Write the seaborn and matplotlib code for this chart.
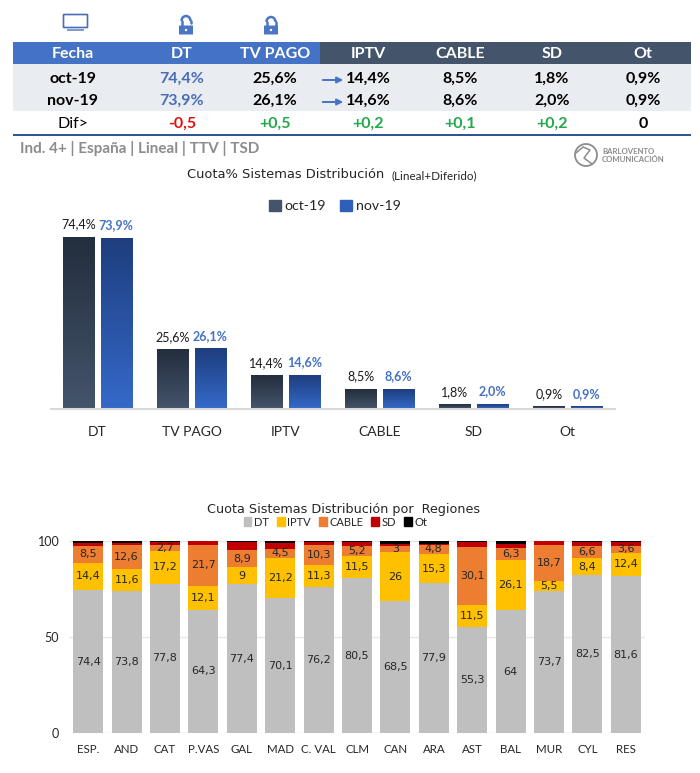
import matplotlib
matplotlib.use('Agg')
import matplotlib.pyplot as plt
from matplotlib.patches import Rectangle, FancyBboxPatch, Arc, Circle, Patch
from matplotlib.colors import LinearSegmentedColormap
import numpy as np
import pandas as pd
import seaborn as sns

W, H = 700, 773

# table
table_cols = ['Fecha', 'DT', 'TV PAGO', 'IPTV', 'CABLE', 'SD', 'Ot']
row_oct = ['oct-19', '74,4%', '25,6%', '14,4%', '8,5%', '1,8%', '0,9%']
row_nov = ['nov-19', '73,9%', '26,1%', '14,6%', '8,6%', '2,0%', '0,9%']
row_dif = ['Dif>', '-0,5', '+0,5', '+0,2', '+0,1', '+0,2', '0']

# share chart
systems = ['DT', 'TV PAGO', 'IPTV', 'CABLE', 'SD', 'Ot']
share_oct = [74.4, 25.6, 14.4, 8.5, 1.8, 0.9]
share_nov = [73.9, 26.1, 14.6, 8.6, 2.0, 0.9]

# regions chart
regions = ['ESP.', 'AND', 'CAT', 'P.VAS', 'GAL', 'MAD', 'C. VAL', 'CLM', 'CAN', 'ARA', 'AST', 'BAL', 'MUR', 'CYL', 'RES']
reg_dt = [74.4, 73.8, 77.8, 64.3, 77.4, 70.1, 76.2, 80.5, 68.5, 77.9, 55.3, 64, 73.7, 82.5, 81.6]
reg_iptv = [14.4, 11.6, 17.2, 12.1, 9, 21.2, 11.3, 11.5, 26, 15.3, 11.5, 26.1, 5.5, 8.4, 12.4]
reg_cable = [8.5, 12.6, 2.7, 21.7, 8.9, 4.5, 10.3, 5.2, 3, 4.8, 30.1, 6.3, 18.7, 6.6, 3.6]
reg_sd = [1.8, 1.2, 1.6, 1.7, 4.4, 2.9, 1.9, 2.5, 1.0, 0.5, 2.8, 2.0, 1.9, 2.2, 2.0]
reg_ot = [0.9, 0.8, 0.7, 0.2, 0.3, 1.3, 0.3, 0.3, 1.5, 1.5, 0.3, 1.6, 0.2, 0.3, 0.4]

sns.set_theme(style='white')
plt.rcParams['font.family'] = ['Lato', 'DejaVu Sans']
plt.rcParams['axes.unicode_minus'] = False

BLUE = '#4472C4'
NAVY = '#44546A'
TXT = '#262626'


def px_axes(fig, left, top, right, bottom):
    return fig.add_axes([left / W, 1 - bottom / H, (right - left) / W, (bottom - top) / H])


def fmt(v):
    return f'{v:g}'.replace('.', ',')


fig = plt.figure(figsize=(W / 100, H / 100), dpi=100, facecolor='white')

# ---- overlay with table, icons and loose texts, in pixels
bg = fig.add_axes([0, 0, 1, 1])
bg.set_xlim(0, W)
bg.set_ylim(H, 0)
bg.axis('off')

bg.add_patch(Rectangle((12.5, 42), 307.5, 22, color=BLUE, lw=0))
bg.add_patch(Rectangle((320, 42), 371, 22, color=NAVY, lw=0))
bg.add_patch(Rectangle((12.5, 64), 678.5, 47, color='#E9ECF1', lw=0))
bg.add_patch(Rectangle((12.5, 133.5), 678.5, 2, color='#2F5597', lw=0))

col_x = [73, 182, 275, 368, 460, 552, 643]
for x, head, a, b, d in zip(col_x, table_cols, row_oct, row_nov, row_dif):
    bg.text(x, 54, head, color='white', fontsize=11.5, fontweight='bold', ha='center', va='center')
    acol = '#4A6EB5' if head == 'DT' else 'black'
    bg.text(x, 79, a, color=acol, fontsize=11.5, fontweight='bold', ha='center', va='center')
    bg.text(x, 101, b, color=acol, fontsize=11.5, fontweight='bold', ha='center', va='center')
    if d.startswith('-'):
        dcol = '#E01010'
    elif d.startswith('+'):
        dcol = '#22A84A'
    else:
        dcol = 'black'
    bg.text(x, 124, d, color=dcol, fontsize=11.5, fontweight='normal' if head == 'Fecha' else 'bold',
            ha='center', va='center')

for y in [80, 102]:
    bg.annotate('', xy=(346, y), xytext=(320, y),
                arrowprops=dict(arrowstyle='-|>', color=BLUE, lw=1.4, mutation_scale=9))

# icons
bg.add_patch(FancyBboxPatch((64, 15), 23, 12, boxstyle='round,pad=0.5', fc='white', ec='#4A6EB5', lw=1.2))
bg.add_patch(Rectangle((67, 29), 17, 1.5, color='#7F9BD0', lw=0))
for cx, top_y, opened in [(186, 26, True), (271, 26, False)]:
    bg.add_patch(FancyBboxPatch((cx - 6.5, top_y), 13, 8, boxstyle='round,pad=0.5', color='#4A76C4', lw=0))
    yc = top_y - 4 if not opened else top_y - 5
    bg.add_patch(Arc((cx, yc), 9, 10, theta1=180, theta2=360, ec='#4A76C4', lw=1.8))
    bg.plot([cx - 4.5, cx - 4.5], [yc, top_y], color='#4A76C4', lw=1.8)
    if not opened:
        bg.plot([cx + 4.5, cx + 4.5], [yc, top_y], color='#4A76C4', lw=1.8)
    else:
        bg.plot([cx + 4.5, cx + 4.5], [yc, yc + 2], color='#4A76C4', lw=1.8)
    bg.add_patch(Circle((cx, top_y + 4), 1.2, color='white', lw=0))

bg.text(20, 148, 'Ind. 4+ | España | Lineal | TTV | TSD', color='#8C8C8C', fontsize=11, fontweight='bold', va='center')

# logo
bg.add_patch(Circle((586, 155), 11, fc='none', ec='#8C8C8C', lw=1.3))
bg.plot([576, 583, 590, 584, 592], [153, 147, 150, 158, 164], color='#8C8C8C', lw=1.1)
bg.text(602, 151, 'BARLOVENTO', color='#8C8C8C', fontsize=5.6, fontweight='bold', va='center')
bg.text(602, 160, 'COMUNICACIÓN', color='#8C8C8C', fontsize=5.6, fontweight='bold', va='center')

bg.text(187, 175, 'Cuota% Sistemas Distribución', color=TXT, fontsize=9.4, va='center', family='DejaVu Sans')
bg.text(391, 176, '(Lineal+Diferido)', color=TXT, fontsize=8.4, va='center')

# ---- share chart
ax = px_axes(fig, 50.5, 190, 614.5, 409)
ax.patch.set_alpha(0)
share_df = pd.DataFrame({'sistema': systems * 2,
                         'cuota': share_oct + share_nov,
                         'fecha': ['oct-19'] * 6 + ['nov-19'] * 6})
sns.barplot(data=share_df, x='sistema', y='cuota', hue='fecha', palette=[NAVY, '#2F5FB8'],
            width=0.8, gap=0.16, saturation=1, legend=False, linewidth=0, ax=ax)

grads = [('#232E3E', '#44546A'), ('#1E3E7E', '#3569C9')]
label_cols = ['#1A1A1A', BLUE]
label_w = ['normal', 'bold']
for cont, (c_top, c_bot), lc, lw_ in zip(ax.containers, grads, label_cols, label_w):
    cmap = LinearSegmentedColormap.from_list('g', [c_top, c_bot])
    for bar in cont:
        x0, w_, h_ = bar.get_x(), bar.get_width(), bar.get_height()
        ax.imshow(np.linspace(0, 1, 64).reshape(-1, 1), extent=[x0, x0 + w_, 0, h_], cmap=cmap,
                  aspect='auto', zorder=3, origin='upper')
    ax.bar_label(cont, labels=[f'{b.get_height():.1f}%'.replace('.', ',') for b in cont], padding=5,
                 color=lc, fontweight=lw_, fontsize=9, zorder=4)
ax.set_xlim(-0.5, 5.5)
ax.set_ylim(0, 219 / 2.31)
ax.set_xlabel('')
ax.set_ylabel('')
ax.set_yticks([])
ax.tick_params(axis='x', length=0, pad=12, labelsize=10, labelcolor=TXT)
sns.despine(ax=ax, left=True)
ax.spines['bottom'].set_color('#D9D9D9')
ax.spines['bottom'].set_linewidth(1.5)
ax.spines['bottom'].set_zorder(5)
ax.legend(handles=[Patch(color=NAVY, label='oct-19'), Patch(color='#2F5FB8', label='nov-19')],
          ncol=2, frameon=False, loc='center', bbox_to_anchor=((335 - 50.5) / 564, (409 - 206) / 219),
          fontsize=10.2, handlelength=0.85, handleheight=0.9, handletextpad=0.25, columnspacing=1.0,
          labelcolor=TXT)

# ---- regions chart
ax2 = px_axes(fig, 69, 541, 645, 733)
ax2.patch.set_alpha(0)
series = [('DT', reg_dt, '#BFBFBF', True), ('IPTV', reg_iptv, '#FFC000', True),
          ('CABLE', reg_cable, '#ED7D31', True), ('SD', reg_sd, '#C00000', False),
          ('Ot', reg_ot, '#000000', False)]
bottoms = np.zeros(len(regions))
handles = []
for name, vals, col, labelled in series:
    sns.barplot(x=regions, y=vals, bottom=bottoms, color=col, saturation=1, width=0.78,
                linewidth=0, ax=ax2, zorder=2)
    if labelled:
        ax2.bar_label(ax2.containers[-1], labels=[fmt(v) for v in vals], label_type='center',
                      color='#262626', fontsize=8, family='DejaVu Sans', zorder=5)
    bottoms = bottoms + np.array(vals)
    handles.append(Patch(color=col, label=name))
ax2.set_xlim(-0.5, 14.5)
ax2.set_ylim(0, 100)
ax2.set_yticks([0, 50, 100])
ax2.set_axisbelow(True)
ax2.grid(axis='y', color='#E6E6E6', lw=1)
ax2.tick_params(axis='y', length=0, pad=7, labelsize=9, labelcolor=TXT)
ax2.tick_params(axis='x', length=0, pad=8, labelsize=8.3, labelcolor=TXT)
sns.despine(ax=ax2, left=True, top=True, right=True, bottom=True)
ax2.set_xlabel('')
ax2.set_ylabel('')
ax2.legend(handles=handles, ncol=5, frameon=False, loc='center',
           bbox_to_anchor=((335.5 - 69) / 576, (733 - 522) / 192), fontsize=8, handlelength=0.7,
           handleheight=0.8, handletextpad=0.25, columnspacing=0.7, labelcolor=TXT)
bg.text(344, 509, 'Cuota Sistemas Distribución por  Regiones', color=TXT, fontsize=9.2, ha='center', va='center',
        family='DejaVu Sans')

fig.savefig('out.png', dpi=100)
